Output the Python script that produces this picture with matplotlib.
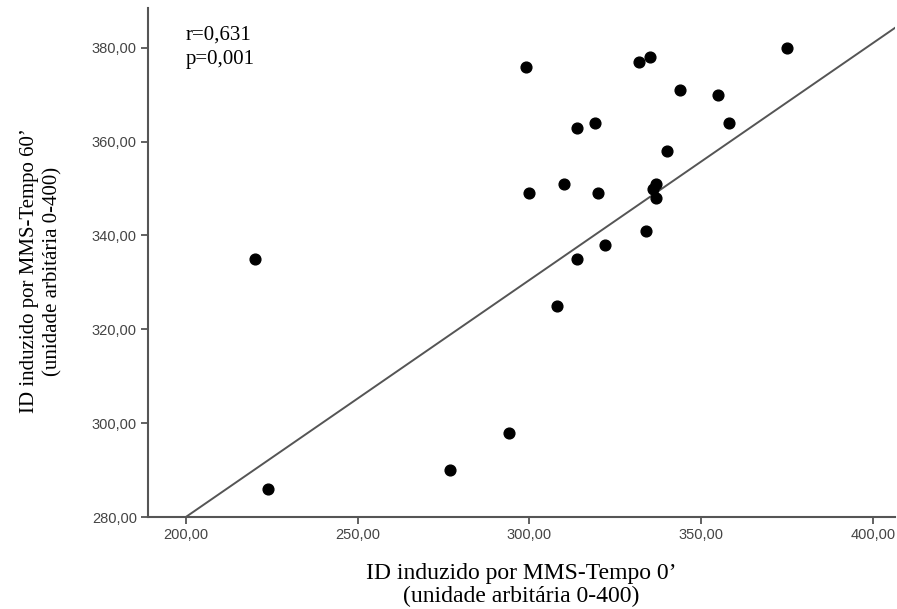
import numpy as np
import matplotlib
matplotlib.use("Agg")
import matplotlib.pyplot as plt
from matplotlib.ticker import FuncFormatter

# ID induzido por MMS - tempo 0' (x) e tempo 60' (y)
tempo0 = [220, 224, 277, 294, 299, 300, 308, 310, 314, 314, 319, 320,
          322, 332, 334, 335, 336, 337, 337, 340, 344, 355, 358, 375]
tempo60 = [335, 286, 290, 298, 376, 349, 325, 351, 363, 335, 364, 349,
           338, 377, 341, 378, 350, 351, 348, 358, 371, 370, 364, 380]
x_ticks = [200, 250, 300, 350, 400]
y_ticks = [280, 300, 320, 340, 360, 380]
stats_text = "r=0,631\np=0,001"
# reta de ajuste
fit_intercept = 179.0
fit_slope = 0.505

serif = ["Liberation Serif", "DejaVu Serif"]
sans = ["Liberation Sans", "DejaVu Sans"]

fig = plt.figure(figsize=(8.97, 6.09), dpi=100)
ax = fig.add_axes([0.165, 0.151, 0.833, 0.836])

ax.scatter(tempo0, tempo60, s=60, color="black", zorder=3)

xs = np.array([180, 420])
ax.plot(xs, fit_intercept + fit_slope * xs, color="#555555", lw=1.4, zorder=2)

ax.set_xlim(189, 406.5)
ax.set_ylim(280, 388.5)
ax.set_xticks(x_ticks)
ax.set_yticks(y_ticks)
fmt = FuncFormatter(lambda v, p: f"{v:.2f}".replace(".", ","))
ax.xaxis.set_major_formatter(fmt)
ax.yaxis.set_major_formatter(fmt)

for s in ["top", "right"]:
    ax.spines[s].set_visible(False)
for s in ["left", "bottom"]:
    ax.spines[s].set_color("#555555")
    ax.spines[s].set_linewidth(1.5)
ax.tick_params(direction="out", length=5, width=1.3, color="#555555",
               labelcolor="#444444", labelsize=10.5, pad=3)
for lab in ax.get_xticklabels() + ax.get_yticklabels():
    lab.set_family(sans)

# títulos dos eixos
fig.text(521 / 897, 1 - 585 / 609,
         "ID induzido por MMS-Tempo 0\u2019\n(unidade arbitária 0-400)",
         family=serif, fontsize=17, ha="center", va="center", linespacing=1.1)
fig.text(41 / 897, 1 - 271 / 609,
         "ID induzido por MMS-Tempo 60\u2019\n(unidade arbitária 0-400)",
         family=serif, fontsize=15, ha="center", va="center", rotation=90,
         linespacing=1.3)

ax.text(0.05, 0.965, stats_text, transform=ax.transAxes, family=serif,
        fontsize=15, va="top", ha="left", linespacing=1.4)

fig.savefig("out.png", dpi=100)
